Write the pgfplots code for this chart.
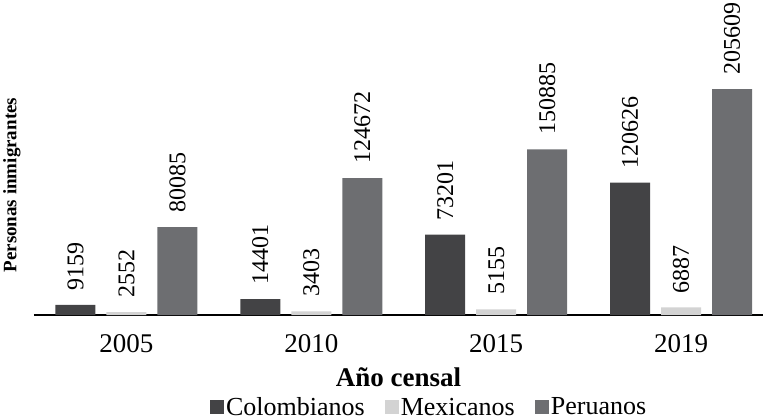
\documentclass[border=0pt]{standalone}
\usepackage{fontspec}
\setmainfont{Liberation Serif}
\usepackage{pgfplots}
\pgfplotsset{compat=1.18}
\definecolor{colo}{HTML}{434345}
\definecolor{mexi}{HTML}{D3D3D3}
\definecolor{peru}{HTML}{6D6E71}
\begin{document}
\begin{tikzpicture}
\begin{axis}[
  scale only axis, width=364.5pt, height=156.5pt, clip=false,
  ybar=5.5pt, bar width=20pt,
  xmin=-0.5, xmax=3.443, ymin=0, ymax=285000,
  axis x line=bottom, axis y line=none,
  x axis line style={-, line width=0.8pt},
  xtick={0,1,2,3}, xticklabels={2005,2010,2015,2019},
  major tick length=0pt,
  xticklabel style={font=\fontsize{13.5}{15}\selectfont, yshift=-6pt},
  xlabel={\textbf{Año censal}},
  xlabel style={font=\fontsize{13.5}{15}\selectfont, yshift=-1pt},
  /pgf/number format/.cd, fixed, precision=0, 1000 sep={}, assume math mode=true, /pgfplots/.cd,
  nodes near coords,
  every node near coord/.append style={rotate=90, anchor=west,
    font=\fontsize{12}{13}\selectfont, inner xsep=7pt, text=black},
  legend columns=-1,
  legend style={at={(0.542,-0.297)}, anchor=center, draw=none,
    font=\fontsize{13}{15}\selectfont,
    /tikz/every even column/.append style={column sep=9pt},
    nodes={inner xsep=1pt}},
  legend image code/.code={\fill[#1,draw=none] (0pt,-3pt) rectangle (7pt,4pt);},
]
\addplot[fill=colo, draw=none] coordinates {(0,9159) (1,14401) (2,73201) (3,120626)};
\addlegendentry{Colombianos}
\addplot[fill=mexi, draw=none] coordinates {(0,2552) (1,3403) (2,5155) (3,6887)};
\addlegendentry{Mexicanos}
\addplot[fill=peru, draw=none] coordinates {(0,80085) (1,124672) (2,150885) (3,205609)};
\addlegendentry{Peruanos}
\node[rotate=90, font=\fontsize{9.5}{11}\selectfont\bfseries]
  at ([xshift=-11pt]rel axis cs:0,0.415) {Personas inmigrantes};
\end{axis}
\pgfresetboundingbox
\useasboundingbox (-17pt,-52pt) rectangle (364.5pt,157.5pt);
\end{tikzpicture}
\end{document}
